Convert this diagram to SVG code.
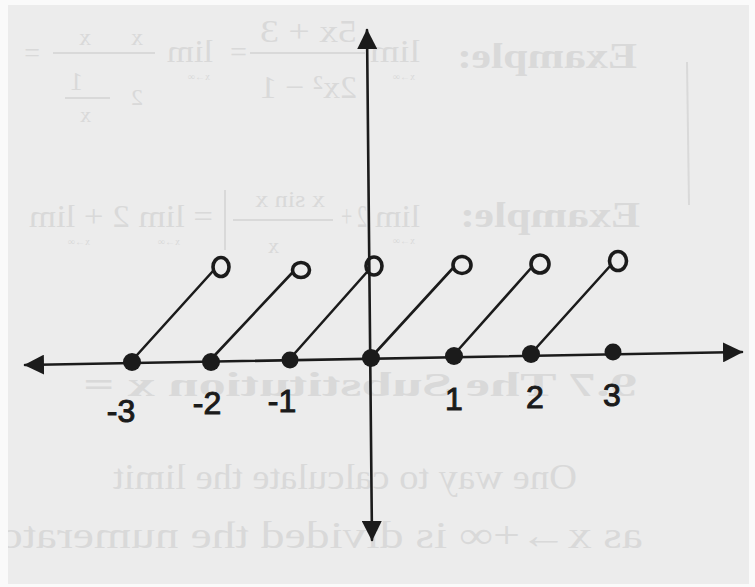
<svg xmlns="http://www.w3.org/2000/svg" width="755" height="587" viewBox="0 0 755 587">
  <style>
    .ink { stroke: #1b1b1b; fill: none; stroke-linecap: round; }
    .axis { stroke-width: 2.6; }
    .seg { stroke-width: 2.6; }
    .dot { fill: #1b1b1b; }
    .open { stroke: #1b1b1b; fill: none; stroke-width: 3.6; }
    .lbl { font-family: "Liberation Sans", "DejaVu Sans", sans-serif; font-size: 32px; fill: #1b1b1b; stroke: #1b1b1b; stroke-width: 1; text-anchor: middle; }
    .ghost { font-family: "Liberation Serif", "DejaVu Serif", serif; fill: #d9d9d9; }
    .ghostb { font-family: "Liberation Serif", "DejaVu Serif", serif; fill: #d9d9d9; font-weight: bold; }
    .gline { stroke: #d9d9d9; stroke-width: 2; }
  </style>
  <defs>
    <marker id="arrow" viewBox="0 0 20 20" refX="19" refY="10" markerWidth="20" markerHeight="20" markerUnits="userSpaceOnUse" orient="auto-start-reverse">
      <path d="M0,0 L20,10 L0,20 z" fill="#1b1b1b"/>
    </marker>
    <clipPath id="paper">
      <rect x="8" y="5" width="741" height="579"/>
    </clipPath>
  </defs>

  <rect x="0" y="0" width="755" height="587" fill="#fafafa"/>
  <rect x="8" y="5" width="741" height="579" fill="#ececec"/>

  <!-- faint mirrored bleed-through from the back of the page -->
  <g id="bleed-through" clip-path="url(#paper)">
    <g transform="matrix(-1 0 0 1 755 0)">
      <text class="ghostb" x="118" y="68" font-size="36" textLength="180" lengthAdjust="spacingAndGlyphs">Example:</text>
      <text class="ghost" x="335" y="62" font-size="32" textLength="50" lengthAdjust="spacingAndGlyphs">lim</text>
      <text class="ghost" x="340" y="80" font-size="10">x→∞</text>
      <text class="ghost" x="398" y="42" font-size="32" textLength="97" lengthAdjust="spacingAndGlyphs">5x + 3</text>
      <line class="gline" x1="390" y1="53" x2="505" y2="53"/>
      <text class="ghost" x="398" y="98" font-size="32" textLength="97" lengthAdjust="spacingAndGlyphs">2x² − 1</text>
      <text class="ghost" x="508" y="62" font-size="30">=</text>
      <text class="ghost" x="542" y="62" font-size="32" textLength="46" lengthAdjust="spacingAndGlyphs">lim</text>
      <text class="ghost" x="545" y="80" font-size="10">x→∞</text>
      <text class="ghost" x="612" y="45" font-size="24">x</text>
      <line class="gline" x1="600" y1="53" x2="640" y2="53"/>
      <text class="ghost" x="612" y="105" font-size="24">2</text>
      <text class="ghost" x="664" y="45" font-size="24">x</text>
      <line class="gline" x1="632" y1="53" x2="702" y2="53"/>
      <text class="ghost" x="672" y="90" font-size="26">1</text>
      <line class="gline" x1="645" y1="98" x2="690" y2="98"/>
      <text class="ghost" x="664" y="122" font-size="22">x</text>
      <text class="ghost" x="715" y="62" font-size="28">=</text>

      <text class="ghostb" x="115" y="227" font-size="36" textLength="180" lengthAdjust="spacingAndGlyphs">Example:</text>
      <text class="ghost" x="335" y="227" font-size="32" textLength="45" lengthAdjust="spacingAndGlyphs">lim</text>
      <text class="ghost" x="340" y="244" font-size="10">x→∞</text>
      <text class="ghost" x="388" y="227" font-size="32" textLength="26" lengthAdjust="spacingAndGlyphs">2 +</text>
      <text class="ghost" x="430" y="207" font-size="24" textLength="70" lengthAdjust="spacingAndGlyphs">x sin x</text>
      <line class="gline" x1="422" y1="220" x2="522" y2="220"/>
      <text class="ghost" x="476" y="253" font-size="22">x</text>
      <line class="gline" x1="530" y1="190" x2="530" y2="250"/>
      <text class="ghost" x="542" y="227" font-size="32" textLength="184" lengthAdjust="spacingAndGlyphs">= lim 2 + lim</text>
      <text class="ghost" x="575" y="245" font-size="10">x→∞</text>
      <text class="ghost" x="665" y="245" font-size="10">x→∞</text>

      <text class="ghostb" x="118" y="396" font-size="34" textLength="554" lengthAdjust="spacingAndGlyphs">9.7 The Substitution x =</text>

      <text class="ghost" x="178" y="489" font-size="36" textLength="464" lengthAdjust="spacingAndGlyphs">One way to calculate the limit</text>
      <text class="ghost" x="112" y="548" font-size="38" textLength="660" lengthAdjust="spacingAndGlyphs">as x→+∞ is divided the numerator</text>
    </g>
    <line class="gline" x1="687" y1="62" x2="689" y2="205" stroke-width="3"/>
  </g>

  <!-- axes and graph segments -->
  <g id="connectors">
    <line id="x-axis" class="ink axis" x1="25" y1="365" x2="742" y2="352" marker-start="url(#arrow)" marker-end="url(#arrow)"/>
    <line id="y-axis" class="ink axis" x1="367" y1="30" x2="372" y2="540" marker-start="url(#arrow)" marker-end="url(#arrow)"/>
    <line class="ink seg" x1="137" y1="355" x2="213" y2="271"/>
    <line class="ink seg" x1="215" y1="355" x2="292" y2="273"/>
    <line class="ink seg" x1="295" y1="353" x2="367" y2="272"/>
    <line class="ink seg" x1="376" y1="352" x2="453" y2="268"/>
    <line class="ink seg" x1="459" y1="349" x2="532" y2="267"/>
    <line class="ink seg" x1="537" y1="347" x2="611" y2="265"/>
  </g>

  <!-- closed points on the axis -->
  <g id="point-m3"><circle class="dot" cx="132" cy="362" r="9"/></g>
  <g id="point-m2"><circle class="dot" cx="211" cy="362" r="9"/></g>
  <g id="point-m1"><circle class="dot" cx="290" cy="360" r="8.5"/></g>
  <g id="point-0"><circle class="dot" cx="371" cy="358" r="9"/></g>
  <g id="point-1"><circle class="dot" cx="454" cy="356" r="9"/></g>
  <g id="point-2"><circle class="dot" cx="531" cy="354" r="9"/></g>
  <g id="point-3"><circle class="dot" cx="613" cy="352" r="8.5"/></g>

  <!-- open endpoints -->
  <g id="open-m2"><ellipse class="open" cx="221" cy="267" rx="8" ry="9.5"/></g>
  <g id="open-m1"><ellipse class="open" cx="301" cy="270" rx="8.5" ry="7.5"/></g>
  <g id="open-0"><ellipse class="open" cx="374" cy="266" rx="8" ry="9"/></g>
  <g id="open-1"><ellipse class="open" cx="462" cy="265" rx="9" ry="8.5"/></g>
  <g id="open-2"><ellipse class="open" cx="540" cy="264" rx="9" ry="9"/></g>
  <g id="open-3"><ellipse class="open" cx="618" cy="261" rx="8.5" ry="9.5"/></g>

  <!-- tick labels -->
  <g id="labels">
    <text class="lbl" x="121" y="422">-3</text>
    <text class="lbl" x="207" y="414">-2</text>
    <text class="lbl" x="282" y="412">-1</text>
    <text class="lbl" x="454" y="410" font-size="34">1</text>
    <text class="lbl" x="535" y="408" font-size="34">2</text>
    <text class="lbl" x="612" y="406" font-size="34">3</text>
  </g>
</svg>
